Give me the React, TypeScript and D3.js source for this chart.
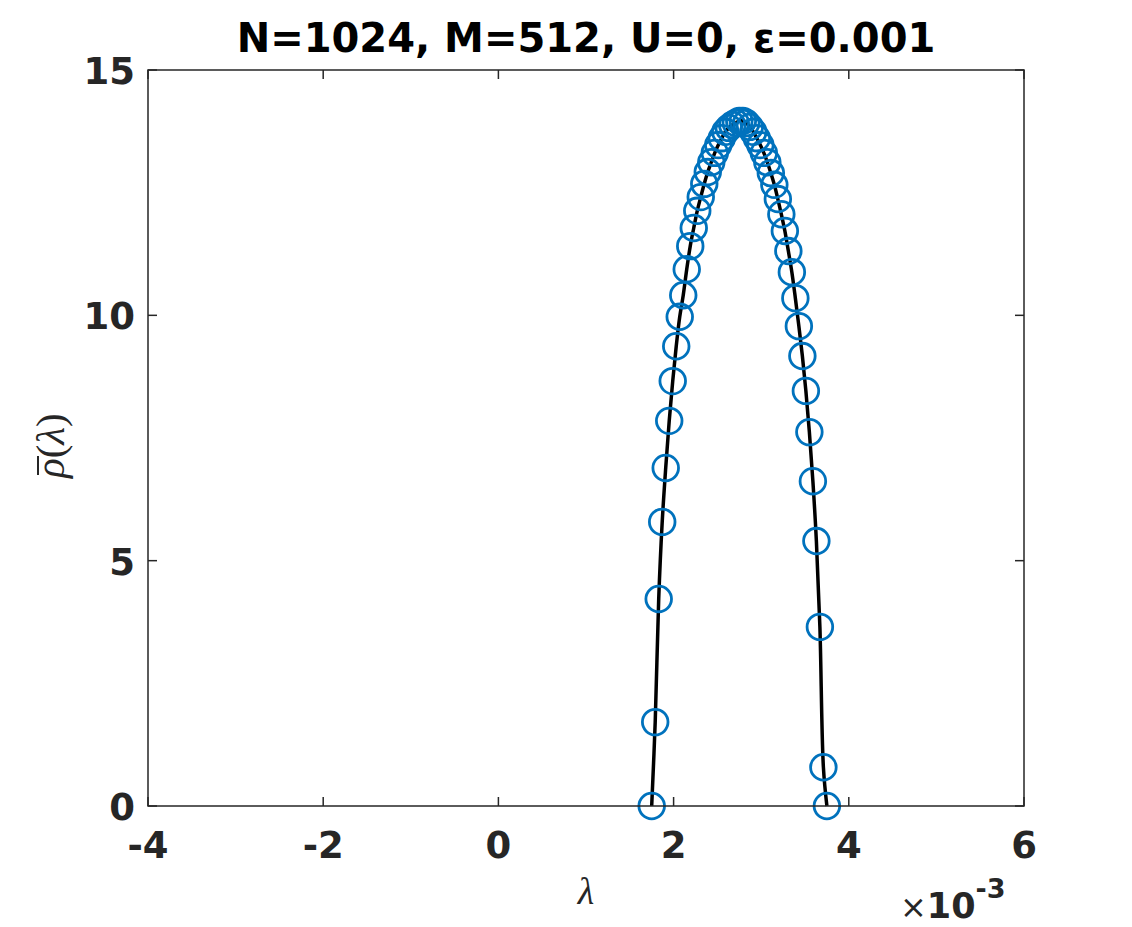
import React from "react";
import * as d3 from "d3";

const lambdaVals = [
  1.75, 1.79, 1.83, 1.87, 1.91, 1.95, 1.99, 2.03, 2.07, 2.11,
  2.15, 2.19, 2.23, 2.27, 2.31, 2.35, 2.39, 2.43, 2.47, 2.51,
  2.55, 2.59, 2.63, 2.67, 2.71, 2.75, 2.79, 2.83, 2.87, 2.91,
  2.95, 2.99, 3.03, 3.07, 3.11, 3.15, 3.19, 3.23, 3.27, 3.31,
  3.35, 3.39, 3.43, 3.47, 3.51, 3.55, 3.59, 3.63, 3.67, 3.71, 3.75,
];
const rhoVals = [
  0.0, 1.71, 4.22, 5.79, 6.89, 7.85, 8.66, 9.37, 9.97, 10.41,
  10.94, 11.41, 11.78, 12.13, 12.41, 12.68, 12.92, 13.12, 13.31, 13.47,
  13.61, 13.74, 13.82, 13.88, 13.92, 13.96, 13.96, 13.92, 13.84, 13.74,
  13.61, 13.47, 13.31, 13.12, 12.9, 12.66, 12.37, 12.06, 11.72, 11.31,
  10.88, 10.35, 9.78, 9.17, 8.46, 7.62, 6.62, 5.4, 3.65, 0.79, 0.0,
];
const xTicks = [-4, -2, 0, 2, 4, 6];
const yTicks = [0, 5, 10, 15];
const titleText = "N=1024, M=512, U=0, ε=0.001";

const W = 1132;
const H = 927;
const left = 148, right = 1024, top = 70, bottom = 806;
const axisColor = "#262626";
const blue = "#0072BD";

export default function App() {
  const x = d3.scaleLinear().domain([-4, 6]).range([left, right]);
  const y = d3.scaleLinear().domain([0, 15]).range([bottom, top]);
  const pts = lambdaVals.map((l, i) => [l, rhoVals[i]] as [number, number]);
  const line = d3
    .line<[number, number]>()
    .x((d) => x(d[0]))
    .y((d) => y(d[1]))
    .curve(d3.curveCatmullRom.alpha(0.5));
  const tickLen = 9;
  const font = "'DejaVu Sans', sans-serif";
  const serif = "'Liberation Serif', serif";
  return (
    <svg
      width={W}
      height={H}
      style={{ position: "absolute", left: 0, top: 0, background: "#fff" }}
    >
      <rect x={0} y={0} width={W} height={H} fill="#fff" />
      <path d={line(pts) || ""} fill="none" stroke="#000" strokeWidth={3.5} />
      {pts.map((p, i) => (
        <circle
          key={i}
          cx={x(p[0])}
          cy={y(p[1])}
          r={12.8}
          fill="none"
          stroke={blue}
          strokeWidth={2.8}
        />
      ))}
      <rect
        x={left}
        y={top}
        width={right - left}
        height={bottom - top}
        fill="none"
        stroke={axisColor}
        strokeWidth={1.5}
      />
      {xTicks.map((t) => (
        <g key={"x" + t}>
          <line x1={x(t)} x2={x(t)} y1={bottom} y2={bottom - tickLen} stroke={axisColor} strokeWidth={1.5} />
          <line x1={x(t)} x2={x(t)} y1={top} y2={top + tickLen} stroke={axisColor} strokeWidth={1.5} />
          <text
            x={x(t)}
            y={bottom + 52}
            textAnchor="middle"
            fontFamily={font}
            fontWeight="bold"
            fontSize={37}
            fill={axisColor}
          >
            {t}
          </text>
        </g>
      ))}
      {yTicks.map((t) => (
        <g key={"y" + t}>
          <line x1={left} x2={left + tickLen} y1={y(t)} y2={y(t)} stroke={axisColor} strokeWidth={1.5} />
          <line x1={right} x2={right - tickLen} y1={y(t)} y2={y(t)} stroke={axisColor} strokeWidth={1.5} />
          <text
            x={left - 13}
            y={y(t) + 14}
            textAnchor="end"
            fontFamily={font}
            fontWeight="bold"
            fontSize={37}
            fill={axisColor}
          >
            {t}
          </text>
        </g>
      ))}
      <text
        x={(left + right) / 2}
        y={52}
        textAnchor="middle"
        fontFamily={font}
        fontWeight="bold"
        fontSize={40}
        fill="#000"
      >
        {titleText}
      </text>
      <text
        x={(left + right) / 2}
        y={904}
        textAnchor="middle"
        fontFamily={serif}
        fontStyle="italic"
        fontSize={38}
        fill={axisColor}
      >
        λ
      </text>
      <text x={900} y={918} fontFamily={font} fill={axisColor}>
        <tspan fontSize={32} fontWeight="normal">×</tspan>
        <tspan fontSize={35} fontWeight="bold">10</tspan>
        <tspan fontSize={27} fontWeight="bold" dy={-20}>-3</tspan>
      </text>
      <g transform={`translate(64, ${(top + bottom) / 2 + 2}) rotate(-90)`}>
        <text x={-38} y={0} textAnchor="start" fontFamily={serif} fontSize={41} fill={axisColor}>
          <tspan fontStyle="italic">ρ</tspan>
          <tspan>(</tspan>
          <tspan fontStyle="italic">λ</tspan>
          <tspan>)</tspan>
        </text>
        <line x1={-35} x2={-16} y1={-26} y2={-26} stroke={axisColor} strokeWidth={2} />
      </g>
    </svg>
  );
}
